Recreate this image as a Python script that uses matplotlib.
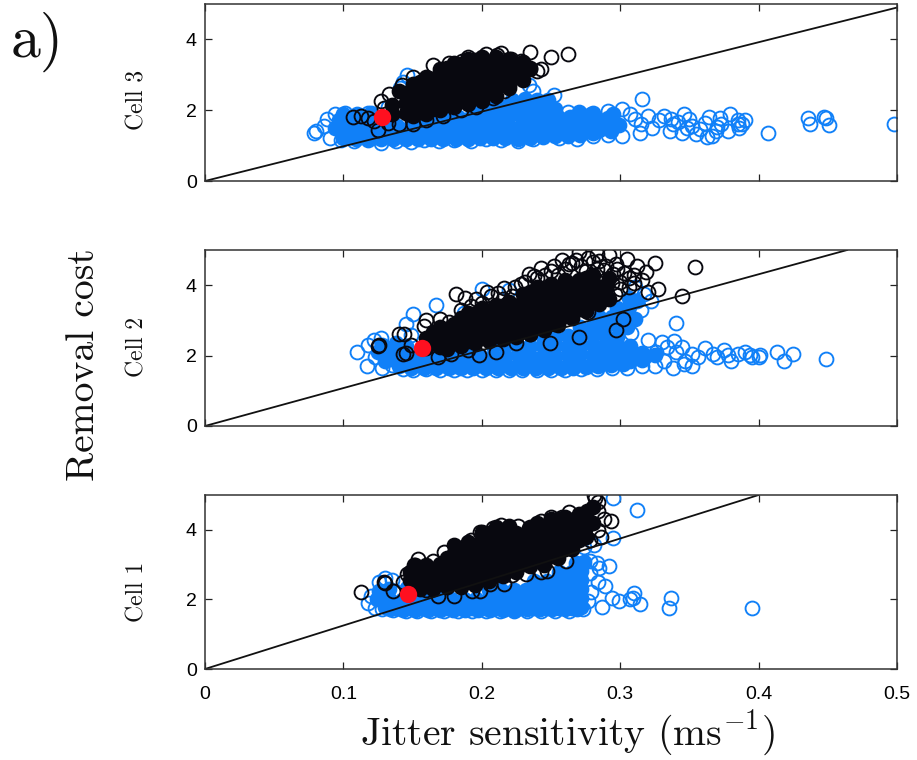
"""Removal cost vs jitter sensitivity for three cells, panel a)."""

import matplotlib
matplotlib.use("Agg")  # headless rendering
import matplotlib.pyplot as plt
import numpy as np

plt.rcParams["mathtext.fontset"] = "cm"
plt.rcParams["axes.unicode_minus"] = False

W, H = 917, 760
BLUE = "#1080f8"
BLACK = "#08080f"

# values, (jitter sensitivity, removal cost)
# *_core: the saturated part of each cloud, *_rings: visible separate circles

cell3_blue_rings = [
    (0.080, 1.40), (0.079, 1.35), (0.086, 1.55), (0.088, 1.75), (0.094, 1.90), (0.101, 1.93), (0.090, 1.22),
    (0.098, 1.15), (0.108, 1.12), (0.118, 1.15), (0.127, 1.08), (0.138, 1.13), (0.149, 1.10), (0.158, 1.15),
    (0.169, 1.12), (0.180, 1.17), (0.192, 1.13), (0.203, 1.20), (0.214, 1.16), (0.226, 1.13), (0.237, 1.20),
    (0.256, 1.22), (0.269, 1.18), (0.280, 1.28), (0.291, 1.30), (0.301, 1.27), (0.314, 1.36), (0.316, 2.33),
    (0.301, 2.02), (0.291, 1.98), (0.279, 1.88), (0.262, 1.95), (0.252, 2.42), (0.234, 2.72), (0.237, 2.55),
    (0.146, 3.00), (0.143, 2.80), (0.141, 2.62), (0.132, 2.10), (0.118, 1.92), (0.307, 1.90), (0.311, 1.75),
    (0.315, 1.60), (0.320, 1.85), (0.323, 1.50), (0.328, 1.72), (0.332, 1.85), (0.336, 1.40), (0.338, 1.60),
    (0.337, 1.75), (0.345, 1.35), (0.350, 1.75), (0.346, 1.90), (0.352, 1.55), (0.358, 1.48), (0.361, 1.65),
    (0.364, 1.80), (0.348, 1.50), (0.342, 1.68), (0.355, 1.32), (0.366, 1.28), (0.370, 1.52), (0.373, 1.60),
    (0.378, 1.42), (0.379, 1.88), (0.385, 1.72), (0.369, 1.40), (0.363, 1.25), (0.372, 1.78), (0.386, 1.50),
    (0.388, 1.62), (0.390, 1.72), (0.385, 1.62), (0.436, 1.78), (0.437, 1.62), (0.451, 1.58), (0.447, 1.80),
    (0.449, 1.78), (0.407, 1.37), (0.498, 1.60),
]
cell3_blue_core = [
    (0.105, 1.25), (0.114, 1.28), (0.123, 1.25), (0.132, 1.28), (0.141, 1.28), (0.150, 1.26), (0.159, 1.30),
    (0.168, 1.28), (0.177, 1.30), (0.186, 1.29), (0.195, 1.32), (0.204, 1.33), (0.213, 1.32), (0.222, 1.30),
    (0.231, 1.32), (0.240, 1.33), (0.249, 1.36), (0.258, 1.38), (0.267, 1.38), (0.276, 1.42), (0.285, 1.45),
    (0.094, 1.50), (0.103, 1.52), (0.112, 1.55), (0.121, 1.52), (0.130, 1.54), (0.139, 1.55), (0.148, 1.52),
    (0.157, 1.56), (0.166, 1.54), (0.175, 1.56), (0.184, 1.55), (0.193, 1.58), (0.202, 1.56), (0.211, 1.58),
    (0.220, 1.55), (0.229, 1.58), (0.238, 1.60), (0.247, 1.58), (0.256, 1.60), (0.265, 1.62), (0.274, 1.60),
    (0.283, 1.62), (0.292, 1.60), (0.299, 1.58), (0.097, 1.72), (0.106, 1.75), (0.115, 1.76), (0.124, 1.78),
    (0.165, 1.78), (0.174, 1.80), (0.183, 1.80), (0.192, 1.82), (0.201, 1.80), (0.210, 1.84), (0.219, 1.82),
    (0.228, 1.84), (0.237, 1.82), (0.246, 1.85), (0.255, 1.82), (0.264, 1.80), (0.273, 1.76), (0.282, 1.78),
    (0.291, 1.78), (0.199, 2.04), (0.208, 2.06), (0.217, 2.08), (0.226, 2.06), (0.235, 2.08), (0.244, 2.05),
    (0.253, 2.04), (0.222, 2.30), (0.231, 2.32), (0.240, 2.30), (0.248, 2.28),
    # smoother lower edge and upper shoulder
    (0.100, 1.22), (0.109, 1.20), (0.118, 1.20), (0.127, 1.18), (0.136, 1.20), (0.145, 1.18), (0.154, 1.20),
    (0.163, 1.20), (0.172, 1.20), (0.181, 1.20), (0.190, 1.20), (0.199, 1.22), (0.208, 1.22), (0.217, 1.22),
    (0.226, 1.20), (0.235, 1.22), (0.244, 1.24), (0.253, 1.26), (0.262, 1.28), (0.271, 1.30), (0.280, 1.35),
    (0.293, 1.42), (0.270, 1.95), (0.280, 1.92), (0.295, 1.88), (0.100, 1.90), (0.110, 1.90), (0.120, 1.92),
]
cell3_black_rings = [
    (0.107, 1.80), (0.113, 1.85), (0.118, 1.78), (0.122, 1.70), (0.125, 1.45), (0.129, 2.05), (0.127, 2.25),
    (0.133, 2.45), (0.142, 2.72), (0.150, 2.95), (0.165, 3.27), (0.176, 3.32), (0.186, 3.38), (0.190, 3.50),
    (0.203, 3.60), (0.211, 3.55), (0.214, 3.62), (0.221, 3.45), (0.228, 3.40), (0.235, 3.63), (0.240, 3.10),
    (0.243, 3.17), (0.250, 3.50), (0.262, 3.60), (0.235, 3.20), (0.228, 2.90), (0.220, 2.70), (0.216, 2.55),
    (0.208, 2.35), (0.196, 2.10), (0.185, 2.00), (0.172, 1.85), (0.160, 1.72), (0.150, 1.62), (0.140, 1.60),
    (0.132, 1.65), (0.145, 2.20), (0.165, 2.85), (0.225, 3.25), (0.158, 2.40),
]
cell3_black_core = [
    (0.135, 1.88), (0.135, 2.16), (0.145, 1.92), (0.145, 2.20), (0.145, 2.48), (0.155, 1.96), (0.155, 2.24),
    (0.155, 2.52), (0.155, 2.80), (0.165, 2.02), (0.165, 2.30), (0.165, 2.58), (0.165, 2.86), (0.175, 2.16),
    (0.175, 2.44), (0.175, 2.72), (0.175, 3.00), (0.175, 3.18), (0.185, 2.28), (0.185, 2.56), (0.185, 2.84),
    (0.185, 3.12), (0.185, 3.30), (0.195, 2.40), (0.195, 2.68), (0.195, 2.96), (0.195, 3.24), (0.195, 3.42),
    (0.205, 2.52), (0.205, 2.80), (0.205, 3.08), (0.205, 3.36), (0.215, 2.76), (0.215, 3.04), (0.215, 3.32),
    (0.225, 3.02), (0.225, 3.30), (0.150, 2.08), (0.150, 2.36), (0.160, 2.14), (0.160, 2.42), (0.160, 2.70),
    (0.170, 2.20), (0.170, 2.48), (0.170, 2.76), (0.170, 3.04), (0.180, 2.30), (0.180, 2.58), (0.180, 2.86),
    (0.180, 3.14), (0.190, 2.42), (0.190, 2.70), (0.190, 2.98), (0.190, 3.26), (0.200, 2.54), (0.200, 2.82),
    (0.200, 3.10), (0.200, 3.38), (0.210, 2.66), (0.210, 2.94), (0.210, 3.22), (0.220, 2.90), (0.220, 3.18),
    # lower and upper edges of the band
    (0.150, 1.85), (0.160, 1.90), (0.170, 2.00), (0.180, 2.08), (0.190, 2.18), (0.200, 2.26), (0.210, 2.40),
    (0.220, 2.62), (0.230, 2.85), (0.140, 2.55), (0.150, 2.75), (0.160, 2.95), (0.170, 3.15), (0.180, 3.33),
    (0.190, 3.45), (0.200, 3.50), (0.210, 3.50), (0.220, 3.45), (0.230, 3.35), (0.235, 3.15), (0.230, 3.08),
]
cell3_red = (0.128, 1.80)

cell2_blue_rings = [
    (0.110, 2.10), (0.118, 2.30), (0.122, 2.45), (0.117, 1.70), (0.123, 1.95), (0.127, 2.50), (0.128, 1.66),
    (0.135, 1.72), (0.143, 1.62), (0.150, 1.60), (0.160, 1.62), (0.170, 1.58), (0.180, 1.60), (0.189, 1.58),
    (0.200, 1.60), (0.210, 1.58), (0.220, 1.60), (0.229, 1.58), (0.240, 1.60), (0.250, 1.58), (0.260, 1.60),
    (0.272, 1.62), (0.283, 1.62), (0.294, 1.64), (0.305, 1.66), (0.316, 1.70), (0.145, 2.90), (0.149, 2.58),
    (0.150, 3.18), (0.167, 3.45), (0.200, 3.90), (0.220, 3.85), (0.187, 3.20), (0.340, 2.93), (0.320, 2.45),
    (0.330, 2.40), (0.339, 2.42), (0.308, 2.65), (0.315, 3.30), (0.322, 3.55), (0.317, 3.75), (0.311, 3.95),
    (0.326, 2.10), (0.334, 2.25), (0.345, 2.25), (0.352, 2.05), (0.356, 1.95), (0.347, 1.85), (0.340, 2.10),
    (0.332, 1.85), (0.338, 1.65), (0.325, 1.70), (0.352, 1.70), (0.346, 1.75), (0.361, 2.22), (0.367, 2.05),
    (0.370, 1.95), (0.375, 2.15), (0.378, 2.02), (0.380, 1.85), (0.385, 2.05), (0.394, 2.02), (0.395, 1.97),
    (0.390, 2.10), (0.401, 2.03), (0.400, 1.95), (0.413, 2.10), (0.418, 1.85), (0.425, 2.05), (0.449, 1.90),
]
cell2_blue_core = [
    (0.135, 1.90), (0.145, 1.75), (0.154, 1.72), (0.163, 1.72), (0.172, 1.72), (0.181, 1.70), (0.190, 1.72),
    (0.199, 1.72), (0.208, 1.72), (0.217, 1.72), (0.226, 1.74), (0.235, 1.72), (0.244, 1.72), (0.253, 1.72),
    (0.262, 1.74), (0.271, 1.76), (0.280, 1.76), (0.289, 1.80), (0.298, 1.82), (0.307, 1.85), (0.316, 1.88),
    (0.135, 2.15), (0.145, 2.05), (0.154, 2.00), (0.163, 2.00), (0.172, 1.98), (0.181, 2.00), (0.190, 2.00),
    (0.199, 2.00), (0.208, 2.00), (0.217, 2.00), (0.226, 2.02), (0.235, 2.00), (0.244, 2.00), (0.253, 2.00),
    (0.262, 2.02), (0.271, 2.04), (0.280, 2.02), (0.289, 2.05), (0.298, 2.05), (0.307, 2.08), (0.316, 2.08),
    (0.325, 2.02), (0.145, 2.28), (0.208, 2.26), (0.217, 2.28), (0.226, 2.26), (0.235, 2.26), (0.244, 2.26),
    (0.253, 2.28), (0.262, 2.28), (0.271, 2.30), (0.280, 2.30), (0.289, 2.30), (0.298, 2.30), (0.307, 2.28),
    (0.244, 2.52), (0.253, 2.54), (0.262, 2.56), (0.271, 2.56), (0.280, 2.58), (0.289, 2.58), (0.298, 2.54),
    (0.271, 2.82), (0.280, 2.84), (0.289, 2.84), (0.298, 2.86), (0.305, 2.80), (0.285, 3.10), (0.294, 3.10),
    (0.303, 3.10), (0.311, 3.05), (0.298, 3.35), (0.306, 3.38),
    # lower edge, left shoulder and tip of the triangle
    (0.140, 1.70), (0.149, 1.66), (0.158, 1.64), (0.167, 1.64), (0.176, 1.64), (0.185, 1.64), (0.194, 1.64),
    (0.203, 1.64), (0.212, 1.64), (0.221, 1.64), (0.230, 1.64), (0.239, 1.64), (0.248, 1.64), (0.257, 1.64),
    (0.266, 1.66), (0.275, 1.68), (0.284, 1.70), (0.293, 1.72), (0.302, 1.76), (0.125, 2.10), (0.130, 1.85),
    (0.128, 2.30), (0.138, 2.35), (0.312, 3.55), (0.306, 3.65), (0.305, 3.20),
]
cell2_black_rings = [
    (0.125, 2.28), (0.126, 2.30), (0.140, 2.60), (0.144, 2.62), (0.143, 2.05), (0.145, 2.08), (0.149, 2.30),
    (0.158, 2.85), (0.160, 3.00), (0.163, 2.55), (0.170, 3.05), (0.181, 3.76), (0.188, 3.65), (0.185, 3.30),
    (0.192, 3.40), (0.207, 3.70), (0.212, 3.78), (0.224, 3.95), (0.231, 4.10), (0.238, 4.25), (0.243, 4.50),
    (0.250, 4.40), (0.258, 4.72), (0.263, 4.60), (0.265, 4.62), (0.270, 4.95), (0.272, 4.55), (0.280, 4.65),
    (0.285, 4.70), (0.292, 4.85), (0.290, 4.55), (0.297, 4.60), (0.305, 4.75), (0.303, 4.35), (0.312, 4.55),
    (0.319, 4.38), (0.325, 4.63), (0.316, 4.15), (0.354, 4.53), (0.320, 3.82), (0.327, 3.90), (0.345, 3.70),
    (0.302, 3.05), (0.297, 2.73), (0.270, 2.54), (0.249, 2.35), (0.198, 2.02), (0.210, 2.10), (0.225, 2.35),
    (0.190, 2.15), (0.178, 2.05), (0.168, 1.95), (0.235, 2.60), (0.253, 2.90), (0.277, 3.25), (0.296, 3.75),
    (0.300, 4.10), (0.283, 4.45), (0.275, 4.40), (0.255, 4.30), (0.240, 4.20), (0.222, 3.70), (0.215, 3.60),
    (0.200, 3.50), (0.197, 3.25), (0.176, 2.95),
    # looser circles above the dense band
    (0.196, 3.62), (0.204, 3.82), (0.216, 3.92), (0.228, 4.02), (0.234, 4.32), (0.246, 4.28), (0.252, 4.55),
    (0.260, 4.45), (0.268, 4.72), (0.277, 4.78), (0.283, 4.88), (0.288, 4.42), (0.295, 4.32), (0.298, 4.45),
    (0.306, 4.20), (0.310, 4.30), (0.300, 3.90), (0.306, 3.95), (0.294, 4.05), (0.310, 4.05),
]
cell2_black_core = [
    (0.160, 2.22), (0.160, 2.50), (0.170, 2.25), (0.170, 2.53), (0.170, 2.81), (0.180, 2.35), (0.180, 2.63),
    (0.180, 2.91), (0.190, 2.42), (0.190, 2.70), (0.190, 2.98), (0.190, 3.20), (0.200, 2.52), (0.200, 2.80),
    (0.200, 3.08), (0.200, 3.36), (0.210, 2.60), (0.210, 2.88), (0.210, 3.16), (0.210, 3.44), (0.220, 2.68),
    (0.220, 2.96), (0.220, 3.24), (0.220, 3.52), (0.230, 2.72), (0.230, 3.00), (0.230, 3.28), (0.230, 3.56),
    (0.230, 3.76), (0.240, 2.82), (0.240, 3.10), (0.240, 3.38), (0.240, 3.66), (0.240, 3.94), (0.250, 2.92),
    (0.250, 3.20), (0.250, 3.48), (0.250, 3.76), (0.250, 4.04), (0.260, 3.12), (0.260, 3.40), (0.260, 3.68),
    (0.260, 3.96), (0.260, 4.14), (0.270, 3.32), (0.270, 3.60), (0.270, 3.88), (0.270, 4.16), (0.280, 3.52),
    (0.280, 3.80), (0.280, 4.08), (0.280, 4.30), (0.290, 3.72), (0.290, 4.00), (0.165, 2.38), (0.165, 2.66),
    (0.175, 2.42), (0.175, 2.70), (0.185, 2.52), (0.185, 2.80), (0.185, 3.08), (0.195, 2.62), (0.195, 2.90),
    (0.195, 3.18), (0.205, 2.72), (0.205, 3.00), (0.205, 3.28), (0.215, 2.80), (0.215, 3.08), (0.215, 3.36),
    (0.225, 2.86), (0.225, 3.14), (0.225, 3.42), (0.235, 2.96), (0.235, 3.24), (0.235, 3.52), (0.235, 3.80),
    (0.245, 3.06), (0.245, 3.34), (0.245, 3.62), (0.245, 3.90), (0.255, 3.26), (0.255, 3.54), (0.255, 3.82),
    (0.265, 3.46), (0.265, 3.74), (0.265, 4.02), (0.275, 3.66), (0.275, 3.94), (0.275, 4.20), (0.285, 3.86),
    # lower edge of the band
    (0.175, 2.18), (0.185, 2.26), (0.195, 2.36), (0.205, 2.42), (0.215, 2.48), (0.225, 2.54), (0.235, 2.60),
    (0.245, 2.72), (0.255, 2.86), (0.265, 3.08), (0.275, 3.26), (0.285, 3.48), (0.292, 3.62), (0.292, 4.20),
]
cell2_red = (0.157, 2.22)

cell1_blue_rings = [
    (0.118, 1.90), (0.120, 2.10), (0.123, 1.75), (0.128, 1.72), (0.126, 2.50), (0.130, 2.62), (0.135, 2.55),
    (0.137, 2.25), (0.136, 1.70), (0.145, 1.68), (0.153, 1.66), (0.163, 1.68), (0.173, 1.68), (0.183, 1.68),
    (0.193, 1.66), (0.203, 1.68), (0.213, 1.68), (0.223, 1.66), (0.233, 1.68), (0.243, 1.68), (0.253, 1.68),
    (0.263, 1.68), (0.273, 1.72), (0.295, 4.90), (0.312, 4.57), (0.295, 3.76), (0.292, 2.95), (0.285, 2.90),
    (0.278, 3.10), (0.284, 2.50), (0.289, 2.38), (0.294, 2.05), (0.299, 1.95), (0.287, 1.78), (0.307, 2.00),
    (0.310, 2.19), (0.309, 2.05), (0.314, 1.86), (0.337, 2.05), (0.335, 1.76), (0.395, 1.76), (0.278, 2.75),
    (0.283, 3.05), (0.279, 2.20), (0.277, 1.95), (0.281, 3.55), (0.274, 3.50),
]
cell1_blue_core = [
    (0.130, 1.78), (0.139, 1.74), (0.148, 1.74), (0.157, 1.74), (0.166, 1.74), (0.175, 1.74), (0.184, 1.74),
    (0.193, 1.74), (0.202, 1.74), (0.211, 1.74), (0.220, 1.74), (0.229, 1.76), (0.238, 1.76), (0.247, 1.76),
    (0.256, 1.76), (0.265, 1.76), (0.272, 1.78), (0.124, 2.02), (0.133, 2.02), (0.142, 1.98), (0.151, 2.00),
    (0.160, 2.02), (0.169, 2.02), (0.178, 2.02), (0.187, 2.02), (0.196, 2.02), (0.205, 2.02), (0.214, 2.02),
    (0.223, 2.02), (0.232, 2.02), (0.241, 2.02), (0.250, 2.02), (0.259, 2.02), (0.268, 2.02), (0.272, 2.04),
    (0.126, 2.25), (0.133, 2.30), (0.146, 2.32), (0.205, 2.28), (0.214, 2.28), (0.223, 2.28), (0.232, 2.28),
    (0.241, 2.28), (0.250, 2.28), (0.259, 2.28), (0.268, 2.28), (0.272, 2.30), (0.238, 2.54), (0.247, 2.54),
    (0.256, 2.54), (0.265, 2.54), (0.272, 2.56), (0.256, 2.80), (0.265, 2.80), (0.272, 2.82), (0.268, 3.06),
    (0.274, 3.08),
    # lower edge
    (0.134, 1.72), (0.143, 1.70), (0.152, 1.70), (0.161, 1.70), (0.170, 1.70), (0.179, 1.70), (0.188, 1.70),
    (0.197, 1.70), (0.206, 1.70), (0.215, 1.70), (0.224, 1.70), (0.233, 1.72), (0.242, 1.72), (0.251, 1.72),
    (0.260, 1.72), (0.269, 1.72),
]
cell1_black_rings = [
    (0.113, 2.20), (0.129, 2.50), (0.130, 2.48), (0.136, 2.25), (0.143, 2.50), (0.146, 2.72), (0.151, 3.00),
    (0.154, 3.15), (0.165, 3.10), (0.173, 3.35), (0.181, 3.25), (0.190, 3.55), (0.192, 3.72), (0.199, 3.95),
    (0.208, 4.05), (0.214, 4.15), (0.220, 4.05), (0.226, 4.10), (0.234, 4.05), (0.243, 4.25), (0.250, 4.38),
    (0.258, 4.38), (0.263, 4.50), (0.272, 4.35), (0.282, 4.92), (0.284, 4.80), (0.281, 5.00), (0.284, 4.55),
    (0.293, 4.26), (0.288, 4.30), (0.286, 3.80), (0.284, 4.00), (0.261, 3.10), (0.247, 2.82), (0.243, 2.80),
    (0.232, 2.72), (0.222, 2.70), (0.216, 2.45), (0.206, 2.45), (0.199, 2.25), (0.193, 2.25), (0.180, 2.10),
    (0.168, 2.10), (0.160, 2.28), (0.278, 3.70),
]
cell1_black_core = [
    (0.155, 2.30), (0.155, 2.58), (0.155, 2.86), (0.165, 2.30), (0.165, 2.58), (0.165, 2.86), (0.175, 2.36),
    (0.175, 2.64), (0.175, 2.92), (0.175, 3.20), (0.185, 2.36), (0.185, 2.64), (0.185, 2.92), (0.185, 3.20),
    (0.185, 3.48), (0.195, 2.42), (0.195, 2.70), (0.195, 2.98), (0.195, 3.26), (0.195, 3.54), (0.205, 2.52),
    (0.205, 2.80), (0.205, 3.08), (0.205, 3.36), (0.205, 3.64), (0.205, 3.90), (0.215, 2.66), (0.215, 2.94),
    (0.215, 3.22), (0.215, 3.50), (0.215, 3.78), (0.215, 4.00), (0.225, 2.80), (0.225, 3.08), (0.225, 3.36),
    (0.225, 3.64), (0.225, 3.92), (0.235, 2.96), (0.235, 3.24), (0.235, 3.52), (0.235, 3.80), (0.235, 4.08),
    (0.245, 3.00), (0.245, 3.28), (0.245, 3.56), (0.245, 3.84), (0.245, 4.12), (0.255, 3.20), (0.255, 3.48),
    (0.255, 3.76), (0.255, 4.04), (0.255, 4.30), (0.265, 3.44), (0.265, 3.72), (0.265, 4.00), (0.265, 4.28),
    (0.275, 3.80), (0.275, 4.08), (0.275, 4.36), (0.280, 4.20), (0.160, 2.44), (0.160, 2.72), (0.170, 2.46),
    (0.170, 2.74), (0.170, 3.02), (0.180, 2.50), (0.180, 2.78), (0.180, 3.06), (0.180, 3.34), (0.190, 2.54),
    (0.190, 2.82), (0.190, 3.10), (0.190, 3.38), (0.200, 2.62), (0.200, 2.90), (0.200, 3.18), (0.200, 3.46),
    (0.200, 3.74), (0.210, 2.74), (0.210, 3.02), (0.210, 3.30), (0.210, 3.58), (0.210, 3.86), (0.220, 2.88),
    (0.220, 3.16), (0.220, 3.44), (0.220, 3.72), (0.220, 3.98), (0.230, 3.02), (0.230, 3.30), (0.230, 3.58),
    (0.230, 3.86), (0.240, 3.12), (0.240, 3.40), (0.240, 3.68), (0.240, 3.96), (0.250, 3.26), (0.250, 3.54),
    (0.250, 3.82), (0.250, 4.10), (0.260, 3.46), (0.260, 3.74), (0.260, 4.02), (0.270, 3.72), (0.270, 4.00),
    (0.270, 4.28),
    # upper edge of the band
    (0.148, 2.55), (0.148, 2.80), (0.152, 3.00), (0.160, 3.00), (0.180, 3.55), (0.190, 3.65), (0.200, 3.95),
    (0.210, 4.08), (0.220, 4.10), (0.240, 4.20), (0.250, 4.32), (0.260, 4.38), (0.270, 4.45), (0.276, 4.55),
    (0.280, 4.65),
]
cell1_red = (0.1465, 2.15)

# line through the origin, value at the right hand end of its drawn part
line_ends = {"Cell 3": (0.5, 4.9), "Cell 2": (0.464, 5.0), "Cell 1": (0.40, 5.0)}

x_ticks = [0, 0.1, 0.2, 0.3, 0.4, 0.5]
x_tick_labels = ["0", "0.1", "0.2", "0.3", "0.4", "0.5"]
y_ticks = [0, 2, 4]

panels = [
    ("Cell 3", 4, 181, 100, cell3_blue_rings, cell3_blue_core, cell3_black_rings, cell3_black_core, cell3_red),
    ("Cell 2", 250, 426, 347, cell2_blue_rings, cell2_blue_core, cell2_black_rings, cell2_black_core, cell2_red),
    ("Cell 1", 495, 669, 592, cell1_blue_rings, cell1_blue_core, cell1_black_rings, cell1_black_core, cell1_red),
]

fig = plt.figure(figsize=(W / 100, H / 100), dpi=100)
fig.patch.set_facecolor("white")

ring_kw = dict(linestyle="none", marker="o", markersize=10.0, markeredgewidth=1.35)

for name, top, bottom, label_y, b_rings, b_core, k_rings, k_core, red in panels:
    ax = fig.add_axes([205 / W, 1 - bottom / H, 692 / W, (bottom - top) / H])

    for pts, colour, face in [(b_rings, BLUE, "none"), (b_core, BLUE, BLUE),
                              (k_rings, BLACK, "none"), (k_core, BLACK, BLACK)]:
        xs, ys = np.array(pts).T
        ax.plot(xs, ys, color=colour, markerfacecolor=face, **ring_kw)

    end_x, end_y = line_ends[name]
    ax.plot([0, end_x], [0, end_y], color="#111111", linewidth=1.3)
    ax.plot(*red, marker="o", markersize=12.5, color="#ff1020", markeredgewidth=0, linestyle="none")

    ax.set_xlim(0, 0.5)
    ax.set_ylim(0, 5)
    ax.set_xticks(x_ticks)
    ax.set_yticks(y_ticks)
    ax.set_yticklabels([str(v) for v in y_ticks], family="Liberation Sans", fontsize=14)
    if name == "Cell 1":
        ax.set_xticklabels(x_tick_labels, family="Liberation Sans", fontsize=14)
    else:
        ax.set_xticklabels([])
    ax.tick_params(direction="in", top=True, right=True, length=5, width=0.9, pad=6, color="#222222")
    ax.tick_params(axis="x", pad=12)
    for spine in ax.spines.values():
        spine.set_linewidth(1.1)
        spine.set_color("#333333")

    fig.text(137 / W, 1 - label_y / H, name, rotation=90, family="cmr10",
             fontsize=17, ha="center", va="center", color="#111111")

fig.text(84 / W, 1 - 365 / H, "Removal cost", rotation=90, family="cmr10", fontsize=28.5,
         ha="center", va="center", color="#111111")
fig.text(567 / W, 1 - 733 / H, r"Jitter sensitivity (ms$^{-1}$)", family="cmr10", fontsize=28.5,
         ha="center", va="center", color="#111111")
fig.text(37 / W, 1 - 42 / H, "a)", family="cmr10", fontsize=43, ha="center", va="center", color="#111111")

plt.savefig("out.png", dpi=100, facecolor=fig.get_facecolor())
plt.close(fig)
